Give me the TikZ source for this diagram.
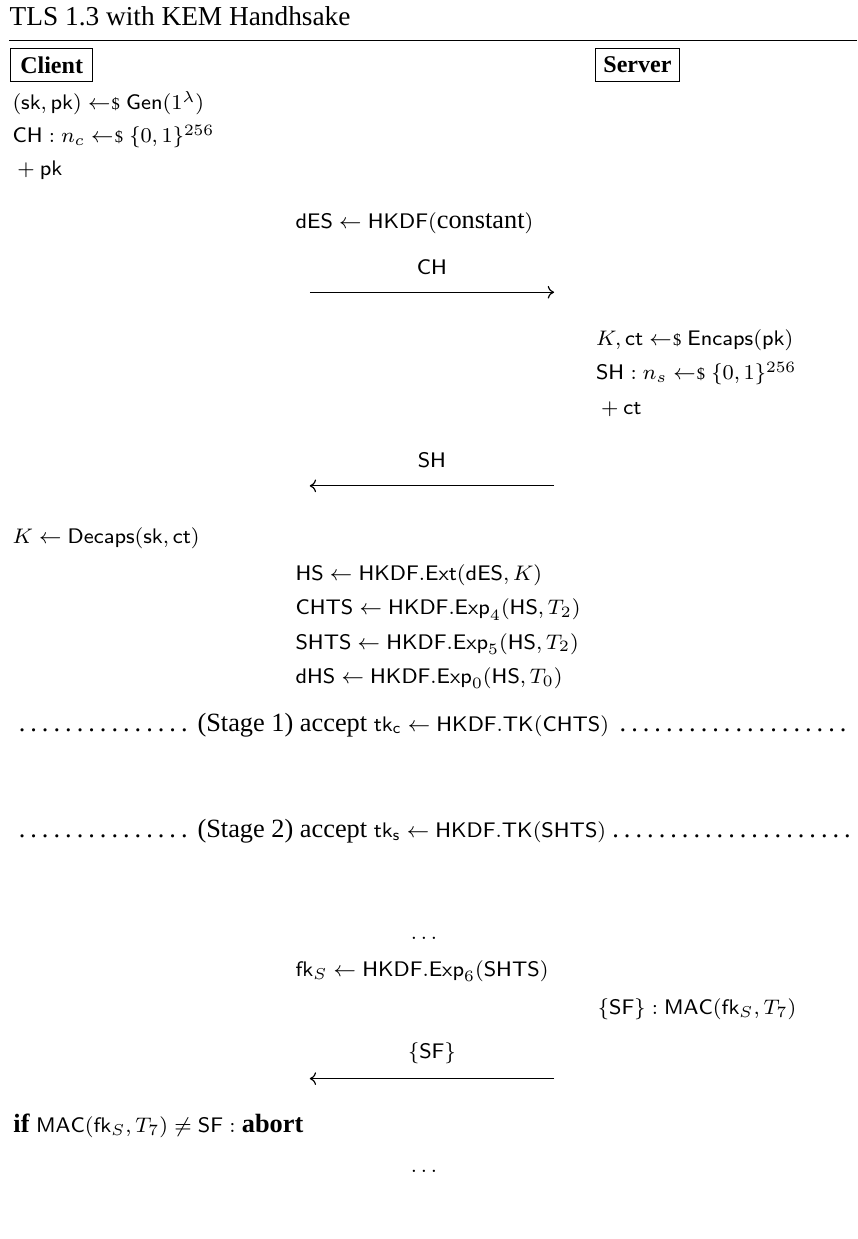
\documentclass[tikz,border=0pt]{standalone}
\usepackage{amsmath}
\usepackage{fontspec}
\setmainfont{Liberation Serif}[Scale=1.25]
\usetikzlibrary{arrows.meta}
\newcommand{\smpl}{\mathrel{\leftarrow\mkern-4mu\mbox{\tiny\$}}}
\tikzset{
  every node/.style={font=\fontsize{8.0}{10}\selectfont, inner sep=0pt},
  txt/.style={anchor=base west},
  ctr/.style={anchor=base},
  party/.style={draw, line width=0.4pt, minimum height=12.6pt, font=\fontsize{7.3}{9}\selectfont\bfseries},
  msg/.style={-{To[length=2.4pt,width=4.8pt]}, line width=0.45pt},
  rulestyle/.style={line width=0.5pt}
}
\newcommand{\stageline}[1]{\makebox[320pt][l]{\makebox[69.6pt]{\dotfill}\hspace{1pt}#1\hspace{1pt}\dotfill}}
\begin{document}
\begin{tikzpicture}[x=0.35pt,y=-0.35pt]
\useasboundingbox (0,0) rectangle (930,1344);
% title and rule
\node[txt] (title) at (10,28) {\fontsize{8.3}{10}\selectfont TLS 1.3 with KEM Handhsake};
\coordinate (rl) at (10,44);
\coordinate (rr) at (930,44);
\draw[rulestyle] (rl) -- (rr);
% parties
\node[party, minimum width=30.9pt] (client) at (56,70.5) {Client};
\node[party, minimum width=31.8pt] (server) at (691.5,70.5) {Server};
% client setup
\node[txt] (c1) at (13,119) {$(\mathsf{sk},\mathsf{pk}) \smpl \mathsf{Gen}(1^\lambda)$};
\node[txt] (c2) at (13,155) {$\mathsf{CH}: n_c \smpl \{0,1\}^{256}$};
\node[txt] (c3) at (13,190) {${}+\mathsf{pk}$};
% dES
\node[txt] (des) at (320,248) {$\mathsf{dES} \leftarrow \mathsf{HKDF}(\text{constant})$};
% message CH
\node[ctr] (lch) at (468.5,298) {$\mathsf{CH}$};
\coordinate (m1s) at (336,317);
\coordinate (m1e) at (601,317);
\draw[msg] (m1s) -- (m1e);
% server
\node[txt] (s1) at (646,375) {$K,\mathsf{ct} \smpl \mathsf{Encaps}(\mathsf{pk})$};
\node[txt] (s2) at (646,412) {$\mathsf{SH}: n_s \smpl \{0,1\}^{256}$};
\node[txt] (s3) at (646,450) {${}+\mathsf{ct}$};
% message SH
\node[ctr] (lsh) at (468.5,507) {$\mathsf{SH}$};
\coordinate (m2s) at (601,527);
\coordinate (m2e) at (336,527);
\draw[msg] (m2s) -- (m2e);
% client decaps
\node[txt] (c4) at (13,590) {$K \leftarrow \mathsf{Decaps}(\mathsf{sk},\mathsf{ct})$};
% key schedule
\node[txt] (k1) at (320,630) {$\mathsf{HS} \leftarrow \mathsf{HKDF.Ext}(\mathsf{dES},K)$};
\node[txt] (k2) at (320,667) {$\mathsf{CHTS} \leftarrow \mathsf{HKDF.Exp}_4(\mathsf{HS},T_2)$};
\node[txt] (k3) at (320,704) {$\mathsf{SHTS} \leftarrow \mathsf{HKDF.Exp}_5(\mathsf{HS},T_2)$};
\node[txt] (k4) at (320,741) {$\mathsf{dHS} \leftarrow \mathsf{HKDF.Exp}_0(\mathsf{HS},T_0)$};
% stages
\node[txt] (st1) at (12,793) {\stageline{(Stage 1) accept $\mathsf{tk}_\mathsf{c} \leftarrow \mathsf{HKDF.TK}(\mathsf{CHTS})$}};
\node[txt] (st2) at (12,909) {\stageline{(Stage 2) accept $\mathsf{tk}_\mathsf{s} \leftarrow \mathsf{HKDF.TK}(\mathsf{SHTS})$}};
% finished
\node[ctr] (d1) at (462,1019) {$\dots$};
\node[txt] (f1) at (320,1059) {$\mathsf{fk}_S \leftarrow \mathsf{HKDF.Exp}_6(\mathsf{SHTS})$};
\node[txt] (f2) at (648,1100) {$\{\mathsf{SF}\}:\mathsf{MAC}(\mathsf{fk}_S,T_7)$};
% message SF
\node[ctr] (lsf) at (468.5,1148) {$\{\mathsf{SF}\}$};
\coordinate (m3s) at (601,1170);
\coordinate (m3e) at (336,1170);
\draw[msg] (m3s) -- (m3e);
% client check
\node[txt] (c5) at (14,1228) {$\textbf{if}\ \mathsf{MAC}(\mathsf{fk}_S,T_7) \neq \mathsf{SF} : \textbf{abort}$};
\node[ctr] (d2) at (462,1272) {$\dots$};
\end{tikzpicture}
\end{document}
